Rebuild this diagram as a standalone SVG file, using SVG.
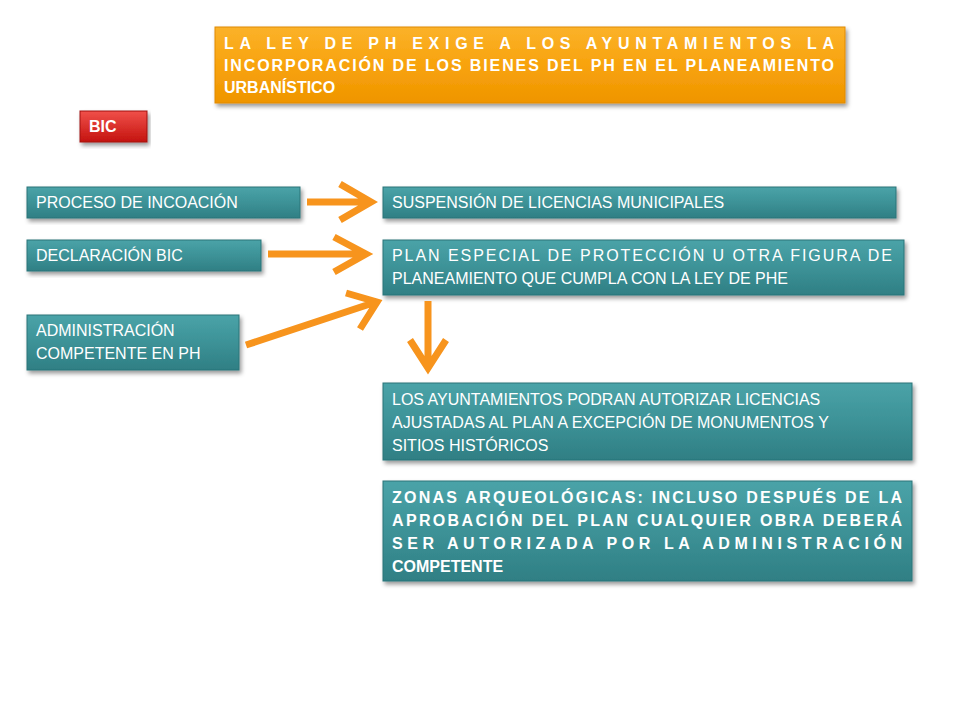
<svg xmlns="http://www.w3.org/2000/svg" width="960" height="720" viewBox="0 0 960 720">
<defs>
<linearGradient id="tg" x1="0" y1="0" x2="0" y2="1"><stop offset="0" stop-color="#4aa3a8"/><stop offset="0.5" stop-color="#3d9297"/><stop offset="1" stop-color="#2f7f84"/></linearGradient>
<linearGradient id="og" x1="0" y1="0" x2="0" y2="1"><stop offset="0" stop-color="#fbb22a"/><stop offset="0.5" stop-color="#f8a30d"/><stop offset="1" stop-color="#ef9500"/></linearGradient>
<linearGradient id="rg" x1="0" y1="0" x2="0" y2="1"><stop offset="0" stop-color="#f0504a"/><stop offset="1" stop-color="#c4130f"/></linearGradient>
<filter id="sh" x="-5%" y="-10%" width="110%" height="130%"><feDropShadow dx="2" dy="3" stdDeviation="2" flood-color="#000" flood-opacity="0.4"/></filter>
</defs>
<style>
.t{fill:url(#tg);stroke:#2b7478;stroke-width:1;filter:url(#sh)}
.w{font-family:"Liberation Sans",Arial,sans-serif;font-size:16px;fill:#fff}
.b{font-weight:bold}
.a{fill:none;stroke:#f7941d;stroke-width:7;stroke-linecap:butt;stroke-linejoin:miter}
</style>
<rect width="960" height="720" fill="#fff"/>
<g id="title"><rect x="215" y="27" width="630" height="76" fill="url(#og)" stroke="#e08a00" filter="url(#sh)"/>
<text class="w b" x="224" y="49" textLength="610" lengthAdjust="spacing">LA LEY DE PH EXIGE A LOS AYUNTAMIENTOS LA</text>
<text class="w b" x="224" y="71" textLength="610">INCORPORACIÓN DE LOS BIENES DEL PH EN EL PLANEAMIENTO</text>
<text class="w b" x="224" y="93">URBANÍSTICO</text></g>
<g id="bic"><rect x="80" y="111" width="67" height="31" fill="url(#rg)" stroke="#a01010" filter="url(#sh)"/><text class="w b" x="89" y="132">BIC</text></g>
<g id="incoacion"><rect class="t" x="27" y="187" width="273" height="31"/><text class="w" x="36" y="208">PROCESO DE INCOACIÓN</text></g>
<g id="declaracion"><rect class="t" x="27" y="240" width="234" height="31"/><text class="w" x="36" y="261">DECLARACIÓN BIC</text></g>
<g id="administracion"><rect class="t" x="27" y="315" width="212" height="55"/><text class="w" x="36" y="336">ADMINISTRACIÓN</text><text class="w" x="36" y="359">COMPETENTE EN PH</text></g>
<g id="suspension"><rect class="t" x="383" y="187" width="513" height="31"/><text class="w" x="392" y="208">SUSPENSIÓN DE LICENCIAS MUNICIPALES</text></g>
<g id="plan"><rect class="t" x="383" y="240" width="521" height="55"/><text class="w" x="392" y="261" textLength="500">PLAN ESPECIAL DE PROTECCIÓN U OTRA FIGURA DE</text><text class="w" x="392" y="284">PLANEAMIENTO  QUE CUMPLA CON LA LEY DE PHE</text></g>
<g id="licencias"><rect class="t" x="383" y="383" width="529" height="77"/><text class="w" x="392" y="405">LOS AYUNTAMIENTOS PODRAN AUTORIZAR LICENCIAS</text><text class="w" x="392" y="428">AJUSTADAS AL PLAN A EXCEPCIÓN DE MONUMENTOS Y</text><text class="w" x="392" y="451">SITIOS HISTÓRICOS</text></g>
<g id="zonas"><rect class="t" x="383" y="481" width="529" height="100"/>
<text class="w b" x="392" y="503" textLength="510">ZONAS ARQUEOLÓGICAS: INCLUSO DESPUÉS DE LA</text>
<text class="w b" x="392" y="526" textLength="510">APROBACIÓN DEL PLAN CUALQUIER OBRA DEBERÁ</text>
<text class="w b" x="392" y="549" textLength="510">SER AUTORIZADA POR LA ADMINISTRACIÓN</text>
<text class="w b" x="392" y="572">COMPETENTE</text></g>
<g id="connectors">
<path class="a" d="M307 202H370M340 184L371 202L340 220"/>
<path class="a" d="M268 254H365M334 237L366 254L334 272"/>
<path class="a" d="M246 345L376 302M346 293L377 302L360 329"/>
<path class="a" d="M428 301V367M410 340L428 368L446 340"/>
</g>
</svg>
